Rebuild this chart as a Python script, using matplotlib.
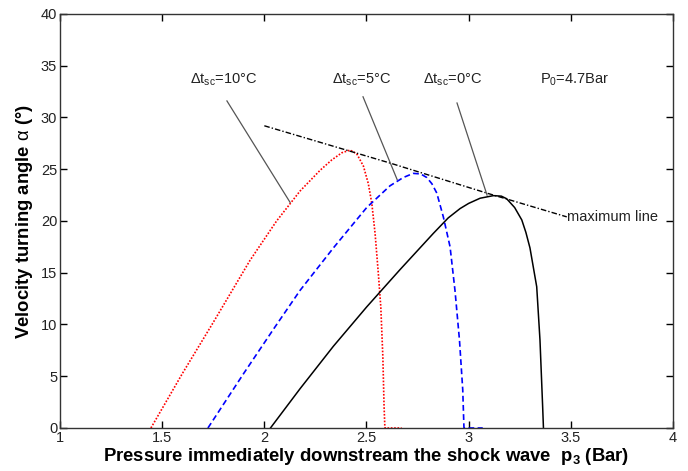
import matplotlib
matplotlib.use("Agg")
import matplotlib.pyplot as plt

plt.rcParams['font.family'] = ['Liberation Sans', 'DejaVu Sans']
plt.rcParams['mathtext.fontset'] = 'custom'
plt.rcParams['mathtext.rm'] = 'Liberation Sans'
plt.rcParams['mathtext.it'] = 'Liberation Sans'
plt.rcParams['mathtext.bf'] = 'Liberation Sans:bold'

# Δt_sc = 10°C (red dotted)
p_10 = [1.445, 1.6, 1.75, 1.93, 2.06, 2.175, 2.273, 2.33, 2.38, 2.42, 2.452, 2.485, 2.509, 2.526,
        2.542, 2.558, 2.57, 2.58, 2.586, 2.59, 2.672]
a_10 = [0.0, 5.3, 10.2, 16.2, 20.0, 22.9, 24.9, 25.9, 26.6, 26.85, 26.5, 25.3, 23.6, 21.7,
        18.8, 14.9, 11.7, 6.9, 2.1, 0.0, 0.0]

# Δt_sc = 5°C (blue dashed)
p_5 = [1.724, 1.9, 2.05, 2.175, 2.338, 2.501, 2.615, 2.68, 2.729, 2.765, 2.795, 2.82, 2.844, 2.876,
       2.909, 2.933, 2.955, 2.971, 2.977, 3.069]
a_5 = [0.0, 5.3, 9.7, 13.3, 17.4, 21.3, 23.4, 24.2, 24.6, 24.55, 24.2, 23.6, 22.7, 20.4,
       17.5, 13.3, 8.5, 3.7, 0.0, 0.0]

# Δt_sc = 0°C (black solid)
p_0 = [2.03, 2.175, 2.338, 2.501, 2.664, 2.827, 2.9, 2.958, 3.0, 3.056, 3.121, 3.16, 3.186, 3.225,
       3.26, 3.28, 3.30, 3.333, 3.349, 3.362, 3.366]
a_0 = [0.0, 3.8, 7.9, 11.7, 15.3, 18.8, 20.3, 21.2, 21.7, 22.2, 22.45, 22.4, 22.15, 21.3,
       20.1, 18.9, 17.4, 13.65, 8.5, 2.1, 0.0]

# maximum line
p_max = [2.0, 2.615, 3.088, 3.48]
a_max = [29.2, 25.6, 22.7, 20.4]

x_ticks = [1, 1.5, 2, 2.5, 3, 3.5, 4]
x_tick_labels = ['1', '1.5', '2', '2.5', '3', '3.5', '4']
y_ticks = [0, 5, 10, 15, 20, 25, 30, 35, 40]

fig = plt.figure(figsize=(6.88, 4.71), dpi=100)
ax = fig.add_axes([0.0872, 0.0913, 0.891, 0.879])

ax.plot(p_10, a_10, color='red', linestyle=(0, (1, 1)), linewidth=1.2)
ax.plot(p_5, a_5, color='blue', linestyle=(0, (3.5, 2)), linewidth=1.2)
ax.plot(p_0, a_0, color='black', linestyle='-', linewidth=1.1)
ax.plot(p_max, a_max, color='black', linestyle=(0, (4, 1.5, 1, 1.5)), linewidth=1.0)

ax.set_xlim(1, 4)
ax.set_ylim(0, 40)
ax.set_xticks(x_ticks)
ax.set_xticklabels(x_tick_labels)
ax.set_yticks(y_ticks)
ax.tick_params(direction='in', top=True, right=True, labelsize=10.5, length=5, width=1.0, pad=2,
               labelcolor='#222222')
for s in ax.spines.values():
    s.set_linewidth(1.0)
    s.set_color('#333333')

ax.set_xlabel(r'Pressure immediately downstream the shock wave  p$_{\mathbf{3}}$ (Bar)',
              fontsize=13.3, fontweight='bold', labelpad=1)
ax.set_ylabel(r'Velocity turning angle $\alpha$ (°)', fontsize=13.3, fontweight='bold', labelpad=4)

tc = '#222222'
fs = 10.5
ax.text(1.636, 33.3, r'$\Delta$t$_{\mathrm{sc}}$=10°C', fontsize=fs, color=tc, va='baseline', ha='left')
ax.text(2.331, 33.3, r'$\Delta$t$_{\mathrm{sc}}$=5°C', fontsize=fs, color=tc, va='baseline', ha='left')
ax.text(2.777, 33.3, r'$\Delta$t$_{\mathrm{sc}}$=0°C', fontsize=fs, color=tc, va='baseline', ha='left')
ax.text(3.349, 33.3, r'P$_{\mathrm{0}}$=4.7Bar', fontsize=fs, color=tc, va='baseline', ha='left')
ax.text(3.48, 20.4, 'maximum line', fontsize=fs, color=tc, va='center', ha='left')

lc = '#555555'
ax.plot([1.817, 2.126], [31.6, 21.8], color=lc, linewidth=0.9)
ax.plot([2.483, 2.650], [32.0, 24.0], color=lc, linewidth=0.9)
ax.plot([2.943, 3.090], [31.4, 22.5], color=lc, linewidth=0.9)

fig.savefig('out.png', dpi=100)
